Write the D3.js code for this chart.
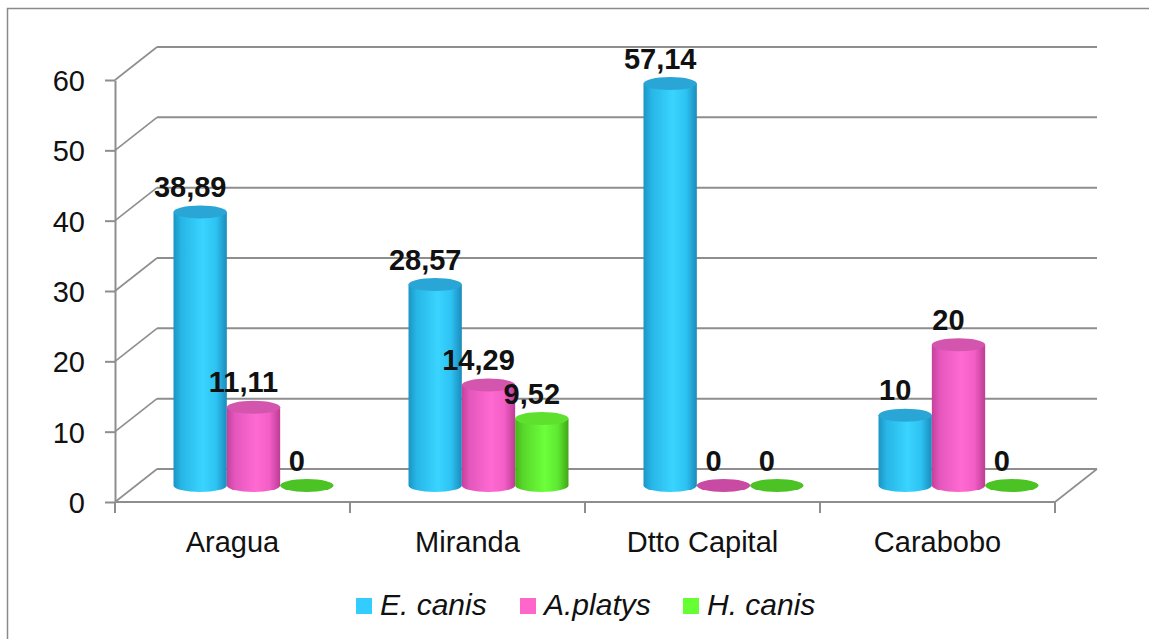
<!DOCTYPE html>
<html>
<head>
<meta charset="utf-8">
<script src="https://cdn.jsdelivr.net/npm/d3@7"></script>
<style>
  html, body { margin: 0; padding: 0; background: #ffffff; }
  svg { display: block; }
  text { font-family: "Liberation Sans", Arial, sans-serif; }
</style>
</head>
<body>
<svg id="chart" width="1149" height="639"></svg>
<script>
// ---- data ----
const categories = ["Aragua", "Miranda", "Dtto Capital", "Carabobo"];
const seriesNames = ["E. canis", "A.platys", "H. canis"];
const eCanis  = [38.89, 28.57, 57.14, 10];
const aPlatys = [11.11, 14.29, 0, 20];
const hCanis  = [0, 9.52, 0, 0];
const yTicks = [0, 10, 20, 30, 40, 50, 60];

const seriesValues = [eCanis, aPlatys, hCanis];
const seriesColors = [
  { stops: ["#1b95c4", "#27b6e6", "#3ad4ff", "#2dc2f2", "#1a8cbc"], top: "#29a6d6", zero: "#29a6d6", legend: "#33ccff" },
  { stops: ["#c4419a", "#e457bd", "#ff6ad2", "#f35dc6", "#bd3d94"], top: "#d455ae", zero: "#c84aa3", legend: "#ff66cc" },
  { stops: ["#46b41c", "#58d72a", "#6cff3b", "#5ee931", "#42a619"], top: "#5fe02f", zero: "#4cc324", legend: "#66ff33" }
];

const svg = d3.select("#chart");
const W = 1149, H = 639;

// outer frame
svg.append("rect").attr("x", 7.5).attr("y", 8.5).attr("width", 1300).attr("height", 800)
  .attr("fill", "#ffffff").attr("stroke", "#8a8a8a").attr("stroke-width", 1.5);

// geometry
const x0 = 115, x1 = 1055;
const depthX = 42, depthY = -33;
const y = d3.scaleLinear().domain([0, 60]).range([502, 80]);
const xBand = d3.scaleBand().domain(categories).range([x0, x1]).paddingInner(0).paddingOuter(0);
const groupW = 160;
const xSeries = d3.scaleBand().domain(seriesNames).range([-groupW / 2, groupW / 2]).padding(0);

const gridColor = "#8e8e8e";

// back wall gridlines + side wall diagonals
const grid = svg.append("g");
yTicks.forEach(v => {
  grid.append("line")
    .attr("x1", x0 + depthX).attr("x2", x1 + depthX)
    .attr("y1", y(v) + depthY).attr("y2", y(v) + depthY)
    .attr("stroke", gridColor).attr("stroke-width", 2);
  grid.append("line")
    .attr("x1", x0).attr("y1", y(v))
    .attr("x2", x0 + depthX).attr("y2", y(v) + depthY)
    .attr("stroke", gridColor).attr("stroke-width", 1.6);
});
// floor front edge and right edge
grid.append("line").attr("x1", x0).attr("x2", x1).attr("y1", y(0)).attr("y2", y(0))
  .attr("stroke", gridColor).attr("stroke-width", 2);
grid.append("line").attr("x1", x1).attr("y1", y(0)).attr("x2", x1 + depthX).attr("y2", y(0) + depthY)
  .attr("stroke", gridColor).attr("stroke-width", 1.6);

// y axis
const yAxis = d3.axisLeft(y).tickValues(yTicks).tickSize(10).tickSizeOuter(0).tickPadding(20)
  .tickFormat(d => String(d));
const gy = svg.append("g").attr("transform", `translate(${x0},0)`).call(yAxis);
gy.select(".domain").attr("stroke", gridColor).attr("stroke-width", 2);
gy.selectAll(".tick line").attr("stroke", gridColor).attr("stroke-width", 2);
gy.selectAll(".tick text").attr("font-size", 29).attr("fill", "#111").attr("dy", "0.36em")
  .style("font-family", '"Liberation Sans", Arial, sans-serif');

// x axis boundary ticks
const boundaries = categories.map(c => xBand(c)).concat([xBand(categories[categories.length - 1]) + xBand.bandwidth()]);
svg.append("g").selectAll("line").data(boundaries).join("line")
  .attr("x1", d => d).attr("x2", d => d).attr("y1", y(0)).attr("y2", y(0) + 11)
  .attr("stroke", gridColor).attr("stroke-width", 2);

// category labels
svg.append("g").selectAll("text").data(categories).join("text")
  .attr("x", d => xBand(d) + xBand.bandwidth() / 2)
  .attr("y", 552)
  .attr("text-anchor", "middle").attr("font-size", 29).attr("fill", "#111")
  .text(d => d);

// gradients
const defs = svg.append("defs");
seriesColors.forEach((sc, i) => {
  const g = defs.append("linearGradient").attr("id", "grad" + i)
    .attr("x1", "0%").attr("x2", "100%").attr("y1", "0%").attr("y2", "0%");
  const offs = [0, 0.15, 0.55, 0.8, 1];
  sc.stops.forEach((c, k) => g.append("stop").attr("offset", offs[k]).attr("stop-color", c));
});

// bars (cylinders) at mid-depth
const midX = depthX / 2, midY = depthY / 2;
const bw = xSeries.bandwidth();
const rx = bw / 2, ry = 6.5;
const bars = [];
categories.forEach((c, ci) => {
  seriesNames.forEach((s, si) => {
    bars.push({ c, s, si, v: seriesValues[si][ci] });
  });
});
const barG = svg.append("g");
bars.forEach(b => {
  const cx = xBand(b.c) + xBand.bandwidth() / 2 + midX + xSeries(b.s) + bw / 2;
  const yBase = y(0) + midY;
  const yTop = y(b.v) + midY;
  const sc = seriesColors[b.si];
  b.cx = cx; b.yTop = yTop;
  if (b.v === 0) {
    barG.append("ellipse").attr("cx", cx).attr("cy", yBase).attr("rx", rx).attr("ry", ry)
      .attr("fill", sc.zero);
  } else {
    const left = cx - rx, right = cx + rx;
    const p = `M${left},${yTop} L${left},${yBase} A${rx},${ry} 0 0 0 ${right},${yBase} L${right},${yTop} Z`;
    barG.append("path").attr("d", p).attr("fill", `url(#grad${b.si})`);
    barG.append("ellipse").attr("cx", cx).attr("cy", yTop).attr("rx", rx).attr("ry", ry)
      .attr("fill", sc.top);
  }
});

// data labels
const fmt = v => String(v).replace(".", ",");
svg.append("g").selectAll("text").data(bars).join("text")
  .attr("x", d => d.cx - 10)
  .attr("y", d => d.yTop - 15)
  .attr("text-anchor", "middle").attr("font-size", 29).attr("font-weight", "bold").attr("fill", "#111")
  .text(d => fmt(d.v));

// legend
const legendX = [356, 520, 683];
const lg = svg.append("g");
seriesNames.forEach((s, i) => {
  lg.append("rect").attr("x", legendX[i]).attr("y", 598).attr("width", 16).attr("height", 16)
    .attr("fill", seriesColors[i].legend);
  lg.append("text").attr("x", legendX[i] + 24).attr("y", 615)
    .attr("font-size", 30).attr("font-style", "italic").attr("fill", "#111").text(s);
});
</script>
</body>
</html>
